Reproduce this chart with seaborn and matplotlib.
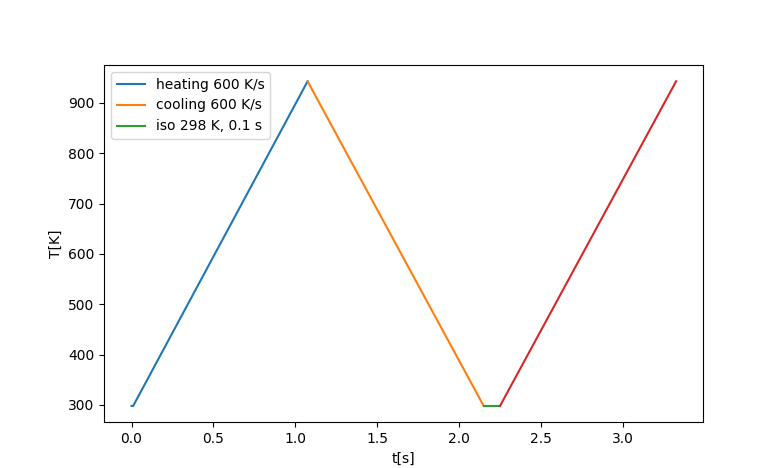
import matplotlib
matplotlib.use("Agg")
import matplotlib.pyplot as plt
import seaborn as sns
import pandas as pd

# segment data (time [s], temperature [K])
heat1_t = [0.0, 0.01, 1.075]
heat1_T = [298, 298, 943]
cool_t = [1.075, 2.15]
cool_T = [943, 298]
iso_t = [2.15, 2.25]
iso_T = [298, 298]
heat2_t = [2.25, 3.325]
heat2_T = [298, 943]

labels = ["heating 600 K/s", "cooling 600 K/s", "iso 298 K, 0.1 s", None]
colors = ["#1f77b4", "#ff7f0e", "#2ca02c", "#d62728"]

fig, ax = plt.subplots(figsize=(7.67, 4.68), dpi=100)
fig.subplots_adjust(left=0.136, right=0.917, top=0.861, bottom=0.098)

segments = [(heat1_t, heat1_T), (cool_t, cool_T), (iso_t, iso_T), (heat2_t, heat2_T)]
for (t, T), lab, c in zip(segments, labels, colors):
    df = pd.DataFrame({"t": t, "T": T})
    sns.lineplot(data=df, x="t", y="T", ax=ax, color=c, label=lab,
                 sort=False, estimator=None, linewidth=1.5)

ax.set_xlabel("t[s]")
ax.set_ylabel("T[K]")
ax.legend(loc="upper left")
fig.savefig("out.png", dpi=100)
